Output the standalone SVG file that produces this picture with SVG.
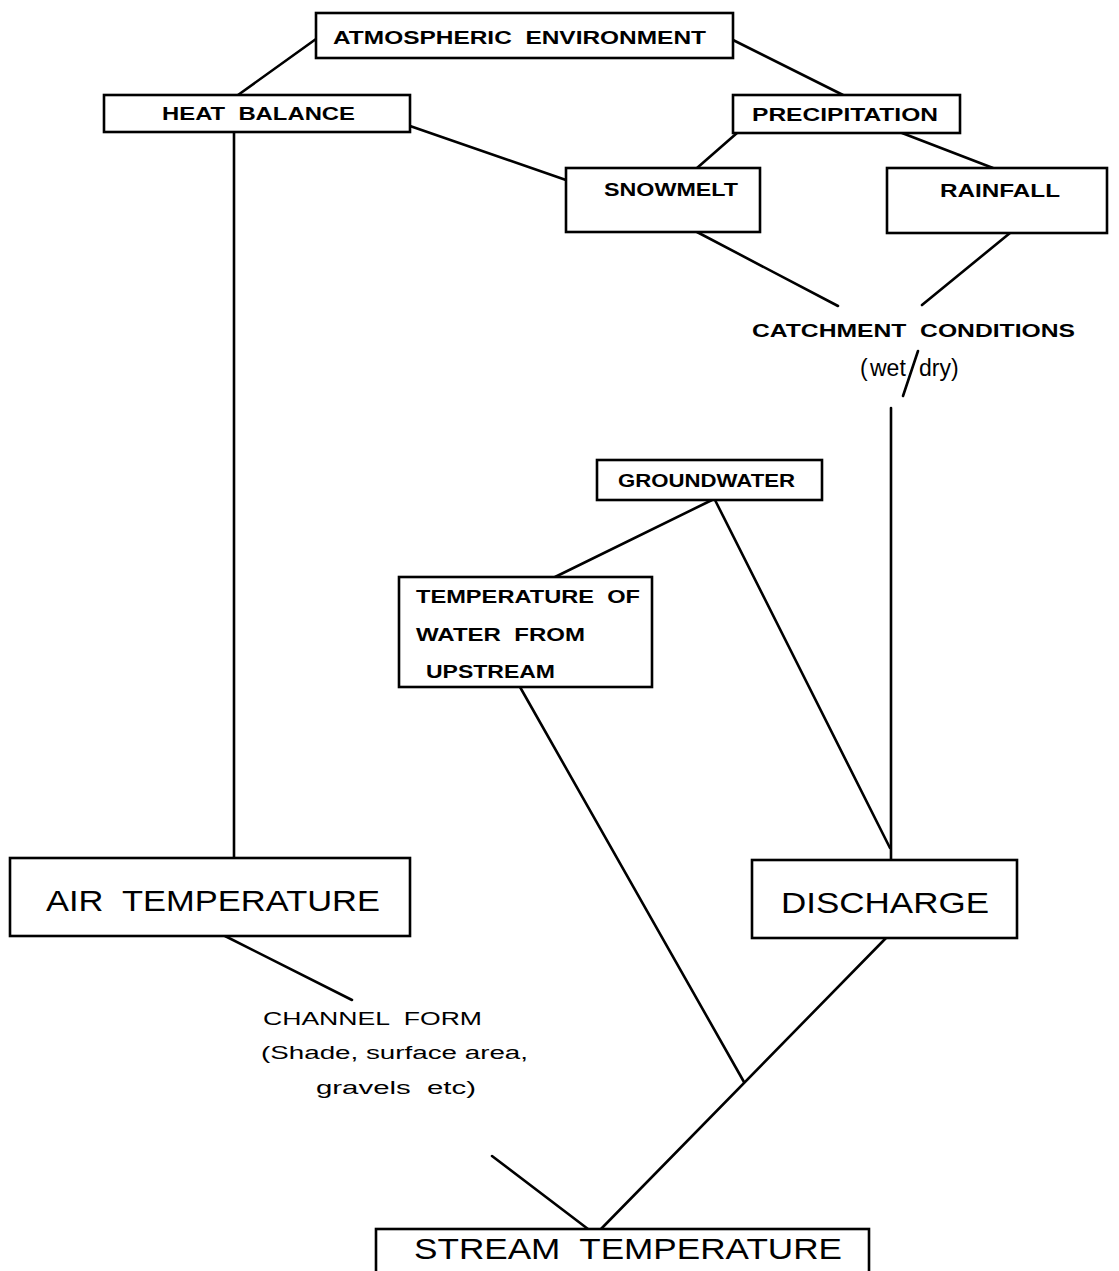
<svg xmlns="http://www.w3.org/2000/svg" width="1119" height="1271" viewBox="0 0 1119 1271" xml:space="preserve">
<style>
.box{fill:#fff;stroke:#000;stroke-width:2.6}
.ln{stroke:#000;stroke-width:2.6;fill:none;stroke-linecap:round}
text{font-family:"Liberation Sans","DejaVu Sans",sans-serif;fill:#000;font-weight:bold;white-space:pre}
.s{font-size:19px}
.m{font-size:18px;font-weight:normal}
.l{font-size:29px;font-weight:normal}
.w{font-size:23px;font-weight:normal}
</style>
<rect width="1119" height="1271" fill="#fff"/>
<g id="connectors">
<line class="ln" x1="316" y1="39" x2="238" y2="95"/>
<line class="ln" x1="733" y1="40" x2="843" y2="95"/>
<line class="ln" x1="234" y1="132" x2="234" y2="858"/>
<line class="ln" x1="410" y1="126" x2="566" y2="180"/>
<line class="ln" x1="737" y1="133" x2="697" y2="168"/>
<line class="ln" x1="902" y1="133" x2="993" y2="168"/>
<line class="ln" x1="697" y1="232" x2="838" y2="306"/>
<line class="ln" x1="1010" y1="233" x2="922" y2="305"/>
<line class="ln" x1="891" y1="408" x2="891" y2="860"/>
<line class="ln" x1="712" y1="500" x2="555" y2="577"/>
<line class="ln" x1="715" y1="500" x2="890" y2="848"/>
<line class="ln" x1="520" y1="687" x2="744" y2="1082"/>
<line class="ln" x1="886" y1="938" x2="600" y2="1230"/>
<line class="ln" x1="225" y1="936" x2="352" y2="1000"/>
<line class="ln" x1="492" y1="1156" x2="588" y2="1229"/>
</g>
<g id="atmospheric">
<rect class="box" x="316" y="13" width="417" height="45"/>
<text class="s" x="333" y="44" textLength="373" lengthAdjust="spacingAndGlyphs">ATMOSPHERIC  ENVIRONMENT</text>
</g>
<g id="heat-balance">
<rect class="box" x="104" y="95" width="306" height="37"/>
<text class="s" x="162" y="120" textLength="193" lengthAdjust="spacingAndGlyphs">HEAT  BALANCE</text>
</g>
<g id="precipitation">
<rect class="box" x="733" y="95" width="227" height="38"/>
<text class="s" x="752" y="121" textLength="186" lengthAdjust="spacingAndGlyphs">PRECIPITATION</text>
</g>
<g id="snowmelt">
<rect class="box" x="566" y="168" width="194" height="64"/>
<text class="s" x="604" y="196" textLength="134" lengthAdjust="spacingAndGlyphs">SNOWMELT</text>
</g>
<g id="rainfall">
<rect class="box" x="887" y="168" width="220" height="65"/>
<text class="s" x="940" y="197" textLength="120" lengthAdjust="spacingAndGlyphs">RAINFALL</text>
</g>
<g id="catchment">
<text class="s" x="752" y="337" textLength="323" lengthAdjust="spacingAndGlyphs">CATCHMENT  CONDITIONS</text>
<text class="w" x="860" y="376">(</text>
<text class="w" x="870" y="376">wet</text>
<text class="w" x="919" y="376">dry)</text>
<line class="ln" x1="903" y1="396" x2="918" y2="351"/>
</g>
<g id="groundwater">
<rect class="box" x="597" y="460" width="225" height="40"/>
<text class="s" x="618" y="487" textLength="177" lengthAdjust="spacingAndGlyphs">GROUNDWATER</text>
</g>
<g id="temp-upstream">
<rect class="box" x="399" y="577" width="253" height="110"/>
<text class="s" x="416" y="603" textLength="224" lengthAdjust="spacingAndGlyphs">TEMPERATURE  OF</text>
<text class="s" x="416" y="641" textLength="169" lengthAdjust="spacingAndGlyphs">WATER  FROM</text>
<text class="s" x="426" y="678" textLength="129" lengthAdjust="spacingAndGlyphs">UPSTREAM</text>
</g>
<g id="air-temperature">
<rect class="box" x="10" y="858" width="400" height="78"/>
<text class="l" x="46" y="911" textLength="334" lengthAdjust="spacingAndGlyphs">AIR  TEMPERATURE</text>
</g>
<g id="discharge">
<rect class="box" x="752" y="860" width="265" height="78"/>
<text class="l" x="781" y="913" textLength="208" lengthAdjust="spacingAndGlyphs">DISCHARGE</text>
</g>
<g id="channel-form">
<text class="m" x="263" y="1025" textLength="219" lengthAdjust="spacingAndGlyphs">CHANNEL  FORM</text>
<text class="m" x="261" y="1059" textLength="267" lengthAdjust="spacingAndGlyphs">(Shade, surface area,</text>
<text class="m" x="316" y="1094" textLength="160" lengthAdjust="spacingAndGlyphs">gravels  etc)</text>
</g>
<g id="stream-temperature">
<rect class="box" x="376" y="1229" width="493" height="50"/>
<text class="l" x="414" y="1259" textLength="428" lengthAdjust="spacingAndGlyphs">STREAM  TEMPERATURE</text>
</g>
</svg>
